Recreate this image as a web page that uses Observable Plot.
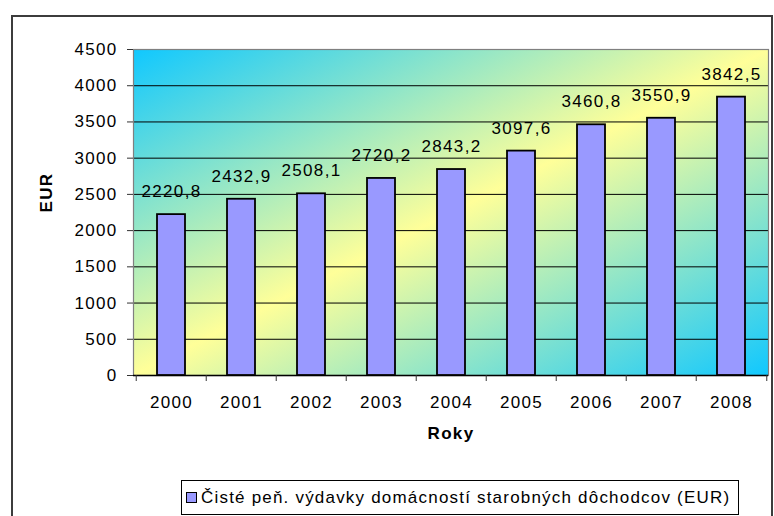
<!DOCTYPE html>
<html><head><meta charset="utf-8">
<script src="https://cdn.jsdelivr.net/npm/d3@7"></script>
<script src="https://cdn.jsdelivr.net/npm/@observablehq/plot@0.6"></script>
<style>
body{margin:0;background:#fff;}
#wrap{position:relative;width:774px;height:516px;overflow:hidden;font-family:"Liberation Sans",Arial,sans-serif;}
#outer{position:absolute;left:11px;top:15px;width:762px;height:540px;border:2px solid #3c3c3c;box-sizing:border-box;}
#chart{position:absolute;left:0;top:0;}
#legend{position:absolute;left:181px;top:480px;width:558px;height:35px;border:1px solid #000;box-sizing:border-box;background:#fff;font-size:17px;letter-spacing:1.2px;display:flex;align-items:center;white-space:nowrap;}
.sw{display:inline-block;width:9px;height:9px;background:#9999ff;border:1px solid #000;margin-left:4px;margin-right:4px;}
</style></head>
<body>
<div id="wrap"><div id="outer"></div><div id="chart"></div><div id="legend"></div></div>
<script>
const years = ["2000","2001","2002","2003","2004","2005","2006","2007","2008"];
const values = [2220.8, 2432.9, 2508.1, 2720.2, 2843.2, 3097.6, 3460.8, 3550.9, 3842.5];
const yTicks = [0,500,1000,1500,2000,2500,3000,3500,4000,4500];
const yLabel = "EUR";
const xLabel = "Roky";
const legendLabel = "Čisté peň. výdavky domácností starobných dôchodcov (EUR)";

const W = 774, H = 480, ML = 133, MR = 6, MT = 49, MB = 105;
const step = (W - ML - MR) / years.length;
const data = years.map((y, i) => ({year: y, value: values[i]}));
const fmt = v => v.toFixed(1).replace(".", ",");

const chart = Plot.plot({
  width: W, height: H,
  marginLeft: ML, marginRight: MR, marginTop: MT, marginBottom: MB,
  style: {fontFamily: '"Liberation Sans", Arial, sans-serif', fontSize: "17px", letterSpacing: "1.3px", color: "#000", background: "transparent", overflow: "visible"},
  x: {type: "band", domain: years, paddingInner: 0.6, paddingOuter: 0.3, align: 0.5, label: null},
  y: {domain: [0, 4500], label: null},
  marks: [
    Plot.frame({fill: "url(#bgGrad)", stroke: "none"}),
    Plot.ruleY(yTicks, {stroke: "#000", strokeWidth: 1}),
    Plot.barY(data, {x: "year", y: "value", fill: "#9999ff", stroke: "#000", strokeWidth: 1.8}),
    Plot.frame({stroke: "#808080", strokeWidth: 1.2}),
    Plot.ruleY([0], {stroke: "#000", strokeWidth: 1.5}),
    Plot.axisY({ticks: yTicks, tickSize: 6, tickPadding: 10, tickFormat: d => String(d), stroke: "#333", label: null}),
    Plot.axisX({ticks: years, tickSize: 6, tickFormat: () => "", dx: -step / 2, stroke: "#333", label: null}),
    Plot.axisX({ticks: [years[years.length - 1]], tickSize: 6, tickFormat: () => "", dx: step / 2, stroke: "#333", label: null}),
    Plot.axisX({ticks: years, tickSize: 0, tickPadding: 20, label: null}),
    Plot.text(data, {x: "year", y: "value", text: d => fmt(d.value), dy: -23}),
    Plot.text([yLabel], {frameAnchor: "left", dx: -87, rotate: -90, fontWeight: "bold", text: d => d, letterSpacing: "0.5px"}),
    Plot.text([xLabel], {frameAnchor: "bottom", dy: 63, fontWeight: "bold", text: d => d})
  ]
});

const svg = d3.select(chart);
const grad = svg.insert("defs", ":first-child").append("linearGradient")
  .attr("id", "bgGrad").attr("x1", 0).attr("y1", 0).attr("x2", 1).attr("y2", 1);
grad.append("stop").attr("offset", "0").attr("stop-color", "#10c8ff");
grad.append("stop").attr("offset", "0.5").attr("stop-color", "#ffff99");
grad.append("stop").attr("offset", "1").attr("stop-color", "#10c8ff");

document.getElementById("chart").appendChild(chart);
const lg = document.getElementById("legend");
lg.innerHTML = '<span class="sw"></span><span></span>';
lg.lastChild.textContent = legendLabel;
</script>
</body></html>
